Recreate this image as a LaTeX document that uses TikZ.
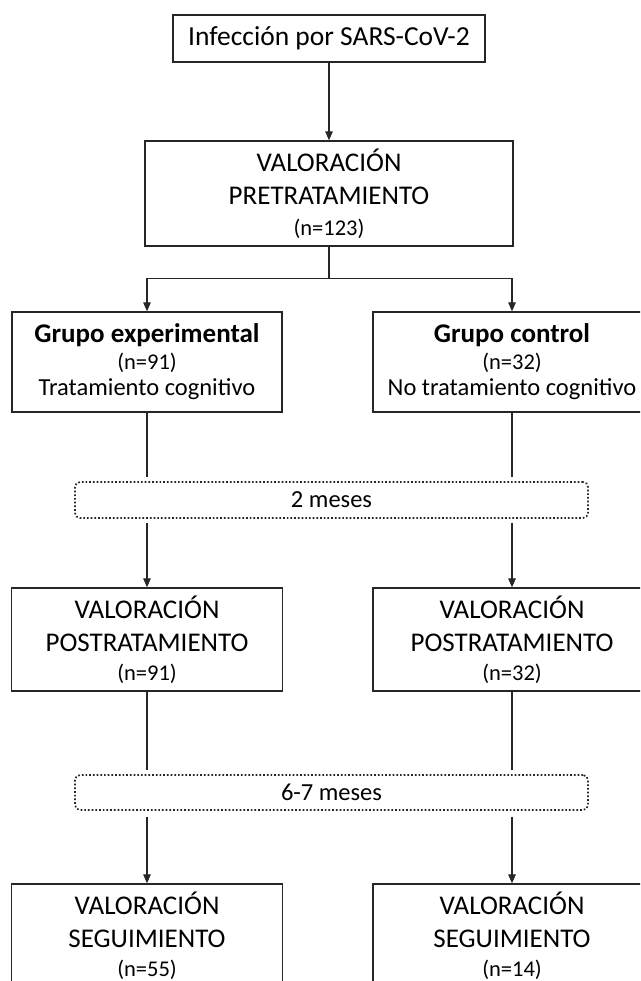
\documentclass[tikz,border=0pt]{standalone}
\usepackage{fontspec}
\setmainfont{Carlito}
\usetikzlibrary{arrows.meta}
\newcommand{\nline}[1]{{\fontsize{22.5}{24}\selectfont #1}}
\newcommand{\grptitle}[1]{{\fontsize{27}{26}\selectfont\bfseries #1}}
\begin{document}
\begin{tikzpicture}[x=1pt,y=-1pt,
  box/.style={draw=black!85, line width=1.3pt, rectangle, align=center, inner sep=0pt, font=\fontsize{27}{33}\selectfont},
  grp/.style={box, font=\fontsize{24.5}{26}\selectfont},
  dotbox/.style={draw=black!85, line width=1.7pt, dotted, rounded corners=5pt, inner sep=0pt, minimum width=513pt, font=\fontsize{24.5}{28}\selectfont},
  conn/.style={line width=1.2pt, draw=black!85},
  arr/.style={conn, -{Triangle[length=9pt,width=7.5pt]}},
]
\useasboundingbox (0,0) rectangle (640,981);
\clip (0,0) rectangle (640,981);

\node[box, minimum width=312pt, minimum height=47pt, font=\fontsize{27.5}{33}\selectfont] (top) at (329,38.5) {Infección por SARS-CoV-2};

\node[box, minimum width=368pt, minimum height=105pt] (pre) at (329,193.5)
  {VALORACIÓN\\ PRETRATAMIENTO\\[-2pt] \nline{(n=123)}};

\node[grp, minimum width=270pt, minimum height=100pt] (ge) at (147,362)
  {\grptitle{Grupo experimental}\\[1pt] \nline{(n=91)}\\ Tratamiento cognitivo};
\node[grp, minimum width=278pt, minimum height=100pt] (gc) at (512,362)
  {\grptitle{Grupo control}\\[1pt] \nline{(n=32)}\\ No tratamiento cognitivo};

\node[dotbox, minimum height=36pt] (d1) at (331.5,500) {2 meses};

\node[box, minimum width=271pt, minimum height=103pt] (pe) at (147,639.5)
  {VALORACIÓN\\ POSTRATAMIENTO\\[-4pt] \nline{(n=91)}};
\node[box, minimum width=278pt, minimum height=103pt] (pc) at (512,639.5)
  {VALORACIÓN\\ POSTRATAMIENTO\\[-4pt] \nline{(n=32)}};

\node[dotbox, minimum height=35pt] (d2) at (331.5,792.5) {6-7 meses};

\node[box, minimum width=271pt, minimum height=103pt] (se) at (147,935.5)
  {VALORACIÓN\\ SEGUIMIENTO\\[-4pt] \nline{(n=55)}};
\node[box, minimum width=278pt, minimum height=103pt] (sc) at (512,935.5)
  {VALORACIÓN\\ SEGUIMIENTO\\[-4pt] \nline{(n=14)}};

% connectors
\draw[arr] (top.south) -- (pre.north);
\draw[conn] (pre.south) -- ++(0,32) coordinate (split);
\draw[arr] (split) -| (ge.north);
\draw[arr] (split) -| (gc.north);

\draw[conn, shorten >=4pt] (ge.south) -- (ge.south |- d1.north);
\draw[conn, shorten >=4pt] (gc.south) -- (gc.south |- d1.north);
\draw[arr, shorten <=4pt] (ge.south |- d1.south) -- (pe.north);
\draw[arr, shorten <=4pt] (gc.south |- d1.south) -- (pc.north);

\draw[conn, shorten >=4pt] (pe.south) -- (pe.south |- d2.north);
\draw[conn, shorten >=4pt] (pc.south) -- (pc.south |- d2.north);
\draw[arr, shorten <=6pt] (pe.south |- d2.south) -- (se.north);
\draw[arr, shorten <=6pt] (pc.south |- d2.south) -- (sc.north);
\end{tikzpicture}
\end{document}
